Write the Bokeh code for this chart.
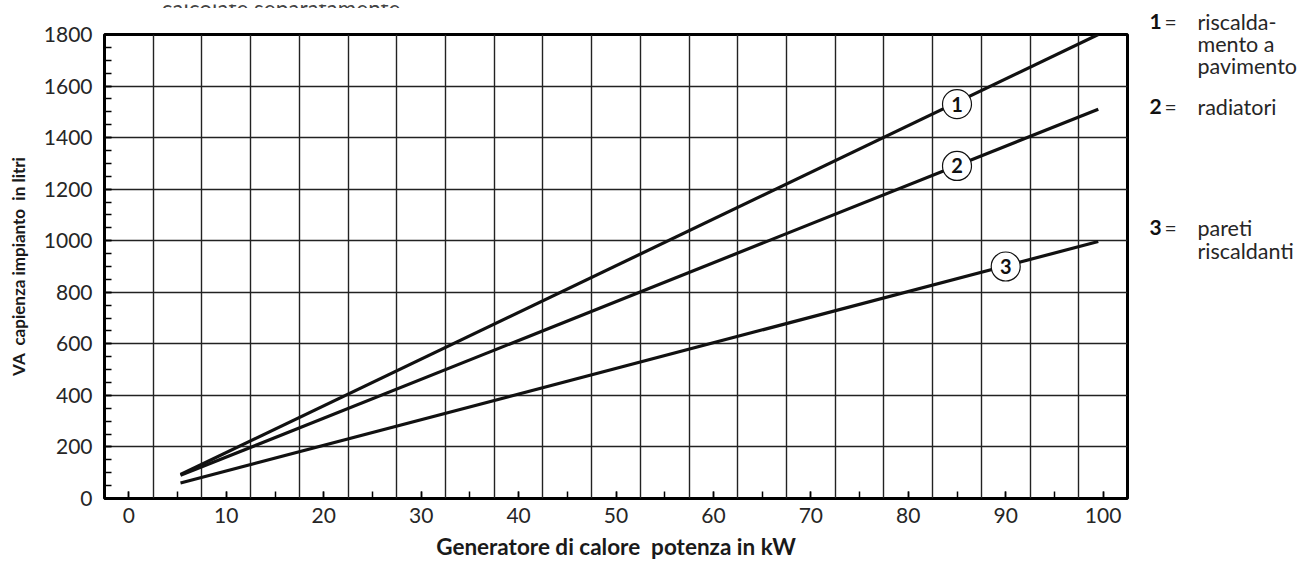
from bokeh.plotting import figure
from bokeh.layouts import row, column
from bokeh.models import SingleIntervalTicker, FixedTicker, Range1d
from bokeh.core.properties import value
from bokeh.embed import file_html
from bokeh.resources import INLINE

# ---------------- data ----------------
x_kw = [5.3, 99.5]
curve1 = [93, 1800]      # riscaldamento a pavimento
curve2 = [90, 1510]      # radiatori
curve3 = [60, 997]       # pareti riscaldanti
marker_x = [85, 85, 90]
marker_y = [1530, 1290, 900]
marker_text = ["1", "2", "3"]
legend_keys = ["1", "2", "3"]
legend_texts = [["riscalda-", "mento a", "pavimento"], ["radiatori"], ["pareti", "riscaldanti"]]
note_text = "calcolate separatamente."
x_title = "Generatore di calore\u00a0 potenza in kW"
y_title = "VA\u00a0 capienza impianto\u00a0 in litri"

# ---------------- layout ----------------
NOTE_H = 8
CH = 562 - NOTE_H
L, R, T, B = 104, 10, 26, 64
FW, FH = 1023, CH - T - B
CW = L + FW + R
LW = 1297 - CW
X0, X1 = -2.5, 102.5
Y0, Y1 = 0, 1800
FONT = "Lato"
TXT = "#262626"


def bare_figure(w, h, xr, yr):
    f = figure(width=w, height=h, output_backend="svg", toolbar_location=None, title=None,
               x_range=Range1d(*xr), y_range=Range1d(*yr),
               x_axis_location=None, y_axis_location=None,
               min_border=0, min_border_left=0, min_border_right=0,
               min_border_top=0, min_border_bottom=0)
    f.frame_align = False
    f.outline_line_color = None
    f.grid.grid_line_color = None
    f.background_fill_color = "white"
    f.border_fill_color = "white"
    return f


# ---------------- main chart ----------------
p = figure(width=CW, height=CH, output_backend="svg", toolbar_location=None, title=None,
           x_range=Range1d(X0, X1), y_range=Range1d(Y0, Y1),
           min_border_left=L, min_border_right=R, min_border_top=T, min_border_bottom=B)
p.frame_align = False
p.background_fill_color = "white"
p.border_fill_color = "white"
p.outline_line_color = "black"
p.outline_line_width = 3

for ax in (p.xaxis[0], p.yaxis[0]):
    ax.axis_line_color = None
    ax.major_tick_in = 7
    ax.major_tick_out = 0
    ax.minor_tick_in = 7
    ax.minor_tick_out = 0
    ax.major_tick_line_color = "black"
    ax.minor_tick_line_color = "black"
    ax.major_tick_line_width = 1.5
    ax.minor_tick_line_width = 1.5
    ax.major_label_text_font = FONT
    ax.major_label_text_font_size = "21px"
    ax.major_label_text_color = TXT
    ax.axis_label_text_font = FONT
    ax.axis_label_text_font_style = "bold"
    ax.axis_label_text_color = "#1a1a1a"

p.xaxis.ticker = SingleIntervalTicker(interval=10, num_minor_ticks=2)
p.yaxis.ticker = SingleIntervalTicker(interval=200, num_minor_ticks=4)
p.xaxis.major_label_standoff = 9
p.yaxis.major_label_standoff = 12
p.xaxis.axis_label = x_title
p.yaxis.axis_label = y_title
p.xaxis.axis_label_text_font_size = "22.5px"
p.yaxis.axis_label_text_font_size = "17px"
p.xaxis.axis_label_standoff = 7
p.yaxis.axis_label_standoff = 12

p.xgrid.ticker = FixedTicker(ticks=[2.5 + 5 * k for k in range(20)])
p.ygrid.ticker = SingleIntervalTicker(interval=200)
for g in (p.xgrid[0], p.ygrid[0]):
    g.grid_line_color = "#222222"
    g.grid_line_width = 1.4

for ys in (curve1, curve2, curve3):
    p.line(x_kw, ys, line_color="#111111", line_width=3.2, line_cap="butt")

p.scatter(marker_x, marker_y, marker="circle", size=29, fill_color="white",
          line_color="#111111", line_width=1.2)
p.text(marker_x, marker_y, text=marker_text, text_font=value(FONT), text_font_style="bold",
       text_font_size="20px", text_align="center", text_baseline="middle", text_color="#111111")

# ---------------- legend panel (pixel coordinates, y downward) ----------------
lf = bare_figure(LW, CH, (0, LW), (CH, 0))
legend_baselines = [[13, 35, 57], [98], [219, 242]]
key_x, key_y, key_t = [], [], []
eq_x, eq_y = [], []
txt_x, txt_y, txt_t = [], [], []
for key, lines, bases in zip(legend_keys, legend_texts, legend_baselines):
    key_x.append(12); key_y.append(bases[0]); key_t.append(key)
    eq_x.append(27); eq_y.append(bases[0])
    for line, base in zip(lines, bases):
        txt_x.append(60); txt_y.append(base); txt_t.append(line)

lf.text(key_x, key_y, text=key_t, text_font=value(FONT), text_font_style="bold",
        text_font_size="21px", text_color="#111111", text_baseline="alphabetic")
lf.text(eq_x, eq_y, text=["="] * len(eq_x), text_font=value(FONT),
        text_font_size="21px", text_color=TXT, text_baseline="alphabetic")
lf.text(txt_x, txt_y, text=txt_t, text_font=value(FONT),
        text_font_size="21.5px", text_color=TXT, text_baseline="alphabetic")

# ---------------- note strip at the very top (partly cut off) ----------------
nf = bare_figure(CW + LW, NOTE_H, (0, CW + LW), (NOTE_H, 0))
nf.text([161], [3.5], text=[note_text], text_font=value(FONT), text_font_size="22.5px",
        text_color="#444444", text_baseline="alphabetic")

layout = column(nf, row(p, lf))
open("out.html", "w").write(file_html(layout, INLINE))
